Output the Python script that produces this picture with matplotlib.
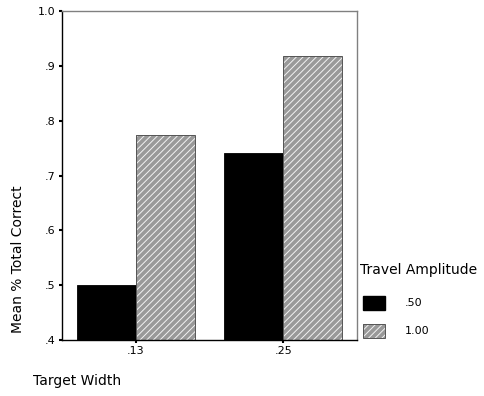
import numpy as np
import matplotlib.pyplot as plt
from matplotlib.patches import Patch

plt.rcParams['hatch.linewidth'] = 0.7

widths = ['.13', '.25']
amp_labels = ['.50', '1.00']
amp_050 = [0.500, 0.742]
amp_100 = [0.774, 0.918]

fig = plt.figure(figsize=(4.85, 3.96), dpi=100)
ax = fig.add_axes([0.128, 0.141, 0.608, 0.831])

x = np.arange(len(widths))
bw = 0.4
ax.bar(x - bw / 2, amp_050, bw, color='black', edgecolor='black', linewidth=0.6)
# grey face with white hatch, then a dark outline on top
ax.bar(x + bw / 2, amp_100, bw, color='#999999', edgecolor='#f2f2f2', linewidth=0, hatch='/////')
ax.bar(x + bw / 2, amp_100, bw, color='none', edgecolor='#555555', linewidth=0.7)

ax.set_xlim(-0.5, 1.5)
ax.set_ylim(0.4, 1.0)
ax.set_xticks(x)
ax.set_xticklabels(widths, fontsize=8)
yt = [0.4, 0.5, 0.6, 0.7, 0.8, 0.9, 1.0]
ax.set_yticks(yt)
ax.set_yticklabels(['.4', '.5', '.6', '.7', '.8', '.9', '1.0'], fontsize=8)
ax.tick_params(length=2.5, width=1.5, color='black', pad=2)

for s in ['top', 'right']:
    ax.spines[s].set_color('#808080')
    ax.spines[s].set_linewidth(1.0)
for s in ['left', 'bottom']:
    ax.spines[s].set_color('black')
    ax.spines[s].set_linewidth(1.0)

fig.text(0.038, 0.345, 'Mean % Total Correct', rotation=90, fontsize=10, va='center', ha='center')
fig.text(0.068, 0.038, 'Target Width', fontsize=10, va='center', ha='left')

fig.text(0.742, 0.318, 'Travel Amplitude', fontsize=10, va='center', ha='left')
hatched = (Patch(facecolor='#999999', edgecolor='#f2f2f2', hatch='/////', linewidth=0),
           Patch(facecolor='none', edgecolor='#555555', linewidth=0.7))
handles = [Patch(facecolor='black', edgecolor='black'), hatched]
leg = fig.legend(handles, amp_labels, loc='upper left',
                 bbox_to_anchor=(0.739, 0.265), frameon=False, fontsize=8,
                 handlelength=2.0, handleheight=1.6, borderaxespad=0,
                 handletextpad=1.8, labelspacing=1.25)

fig.savefig('out.png', dpi=100)
